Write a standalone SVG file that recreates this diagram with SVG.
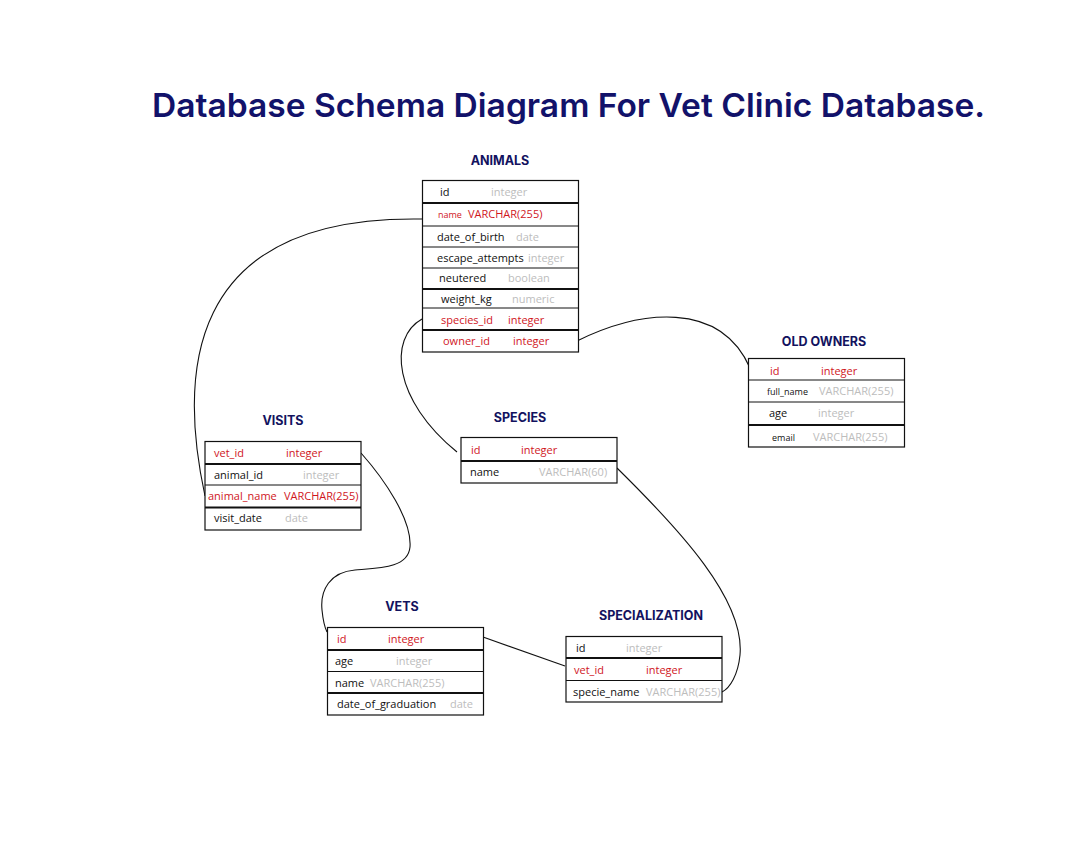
<svg xmlns="http://www.w3.org/2000/svg" width="1085" height="843" viewBox="0 0 1085 843">
<style>
.bg{fill:#ffffff}
.box{fill:#ffffff;stroke:#111;stroke-width:1.2}
.thin{stroke:#111;stroke-width:1}
.thick{stroke:#111;stroke-width:2.2}
.t{font-family:"Open Sans","Liberation Sans",sans-serif;font-size:11px;fill:#111}
.s{font-size:9px}
.r{fill:#d0161e}
.g{fill:#bdbdbd}
.h{font-family:Inter,"Liberation Sans",sans-serif;font-weight:700;font-size:12.5px;fill:#12125e;text-anchor:middle}
.title{font-family:Inter,"Noto Sans","Liberation Sans",sans-serif;font-weight:600;font-size:33px;fill:#12126a}
.c{fill:none;stroke:#111;stroke-width:1.1}
</style>
<rect class="bg" width="1085" height="843"/>
<text class="title" x="152" y="117" textLength="833" lengthAdjust="spacingAndGlyphs">Database Schema Diagram For Vet Clinic Database.</text>

<g id="connectors">
<path class="c" d="M422,219 C180,215 180,380 205,496"/>
<path class="c" d="M422,319 C388,338 393,400 457,452"/>
<path class="c" d="M577,341 C640,310 720,300 750,368"/>
<path class="c" d="M361,453 C385,480 412,520 410,547 C408,568 380,568 355,570 C330,572 320,590 322,610 C323,620 325,628 327,632"/>
<path class="c" d="M617,468 C680,530 745,600 740,655 C738,675 730,688 722,692"/>
<path class="c" d="M483,637 L565,666"/>
</g>

<g id="animals">
<text class="h" x="500" y="165">ANIMALS</text>
<rect class="box" x="422.5" y="180.5" width="156" height="171.5"/>
<line class="thick" x1="422.5" y1="203" x2="578.5" y2="203"/>
<line class="thin" x1="422.5" y1="226" x2="578.5" y2="226"/>
<line class="thin" x1="422.5" y1="247" x2="578.5" y2="247"/>
<line class="thin" x1="422.5" y1="268" x2="578.5" y2="268"/>
<line class="thick" x1="422.5" y1="289" x2="578.5" y2="289"/>
<line class="thin" x1="422.5" y1="308" x2="578.5" y2="308"/>
<line class="thick" x1="422.5" y1="330" x2="578.5" y2="330"/>
<text class="t" x="440" y="196">id</text><text class="t g" x="491" y="196">integer</text>
<text class="t r s" x="438" y="218">name</text><text class="t r" x="468" y="218">VARCHAR(255)</text>
<text class="t" x="437" y="241">date_of_birth</text><text class="t g" x="516" y="241">date</text>
<text class="t" x="437" y="262">escape_attempts</text><text class="t g" x="528" y="262">integer</text>
<text class="t" x="439" y="282">neutered</text><text class="t g" x="508" y="282">boolean</text>
<text class="t" x="441" y="303">weight_kg</text><text class="t g" x="512" y="303">numeric</text>
<text class="t r" x="441" y="324">species_id</text><text class="t r" x="508" y="324">integer</text>
<text class="t r" x="443" y="345">owner_id</text><text class="t r" x="513" y="345">integer</text>
</g>

<g id="old-owners">
<text class="h" x="824" y="346">OLD OWNERS</text>
<rect class="box" x="748.5" y="358.5" width="156" height="88.5"/>
<line class="thin" x1="748.5" y1="380" x2="904.5" y2="380"/>
<line class="thin" x1="748.5" y1="402" x2="904.5" y2="402"/>
<line class="thick" x1="748.5" y1="425" x2="904.5" y2="425"/>
<text class="t r" x="770" y="375">id</text><text class="t r" x="821" y="375">integer</text>
<text class="t s" x="767" y="395">full_name</text><text class="t g" x="819" y="395">VARCHAR(255)</text>
<text class="t" x="769" y="417">age</text><text class="t g" x="818" y="417">integer</text>
<text class="t s" x="772" y="441">email</text><text class="t g" x="813" y="441">VARCHAR(255)</text>
</g>

<g id="visits">
<text class="h" x="283" y="425">VISITS</text>
<rect class="box" x="205" y="441.5" width="156" height="88.5"/>
<line class="thick" x1="205" y1="464" x2="361" y2="464"/>
<line class="thin" x1="205" y1="485" x2="361" y2="485"/>
<line class="thick" x1="205" y1="507.5" x2="361" y2="507.5"/>
<text class="t r" x="214" y="457">vet_id</text><text class="t r" x="286" y="457">integer</text>
<text class="t" x="214" y="479">animal_id</text><text class="t g" x="303" y="479">integer</text>
<text class="t r" x="208" y="500">animal_name</text><text class="t r" x="284" y="500">VARCHAR(255)</text>
<text class="t" x="214" y="522">visit_date</text><text class="t g" x="285" y="522">date</text>
</g>

<g id="species">
<text class="h" x="520" y="422">SPECIES</text>
<rect class="box" x="461" y="437.5" width="156" height="45.5"/>
<line class="thick" x1="461" y1="461" x2="617" y2="461"/>
<text class="t r" x="471" y="454">id</text><text class="t r" x="521" y="454">integer</text>
<text class="t" x="470" y="476">name</text><text class="t g" x="539" y="476">VARCHAR(60)</text>
</g>

<g id="vets">
<text class="h" x="402" y="611">VETS</text>
<rect class="box" x="327.5" y="627.5" width="156" height="87.5"/>
<line class="thick" x1="327.5" y1="650" x2="483.5" y2="650"/>
<line class="thin" x1="327.5" y1="671.5" x2="483.5" y2="671.5"/>
<line class="thick" x1="327.5" y1="693" x2="483.5" y2="693"/>
<text class="t r" x="337" y="643">id</text><text class="t r" x="388" y="643">integer</text>
<text class="t" x="335" y="665">age</text><text class="t g" x="396" y="665">integer</text>
<text class="t" x="335" y="687">name</text><text class="t g" x="370" y="687">VARCHAR(255)</text>
<text class="t" x="337" y="708">date_of_graduation</text><text class="t g" x="450" y="708">date</text>
</g>

<g id="specialization">
<text class="h" x="651" y="620">SPECIALIZATION</text>
<rect class="box" x="566" y="636.5" width="156" height="65.5"/>
<line class="thick" x1="566" y1="658" x2="722" y2="658"/>
<line class="thin" x1="566" y1="680.5" x2="722" y2="680.5"/>
<text class="t" x="576" y="652">id</text><text class="t g" x="626" y="652">integer</text>
<text class="t r" x="574" y="674">vet_id</text><text class="t r" x="646" y="674">integer</text>
<text class="t" x="573" y="696">specie_name</text><text class="t g" x="646" y="696">VARCHAR(255)</text>
</g>
</svg>
